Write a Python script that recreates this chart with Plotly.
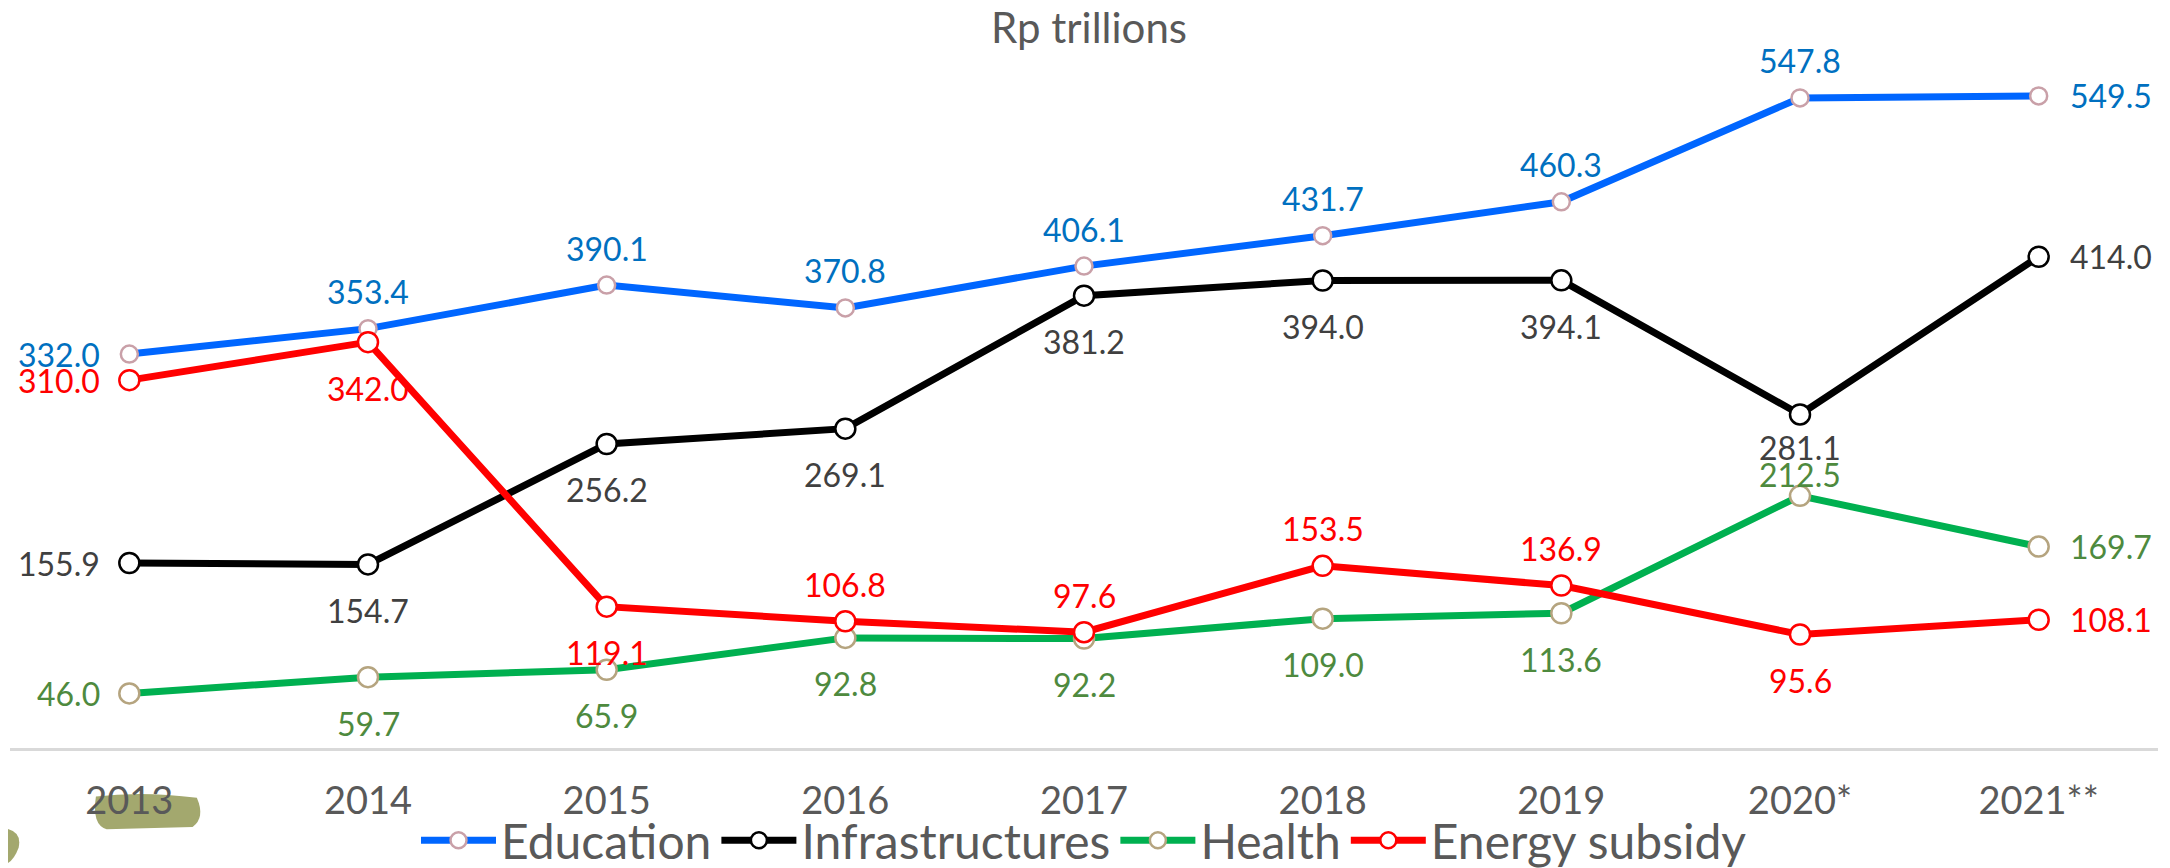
import plotly.graph_objects as go

years = ["2013", "2014", "2015", "2016", "2017", "2018", "2019", "2020*", "2021**"]
education = [332.0, 353.4, 390.1, 370.8, 406.1, 431.7, 460.3, 547.8, 549.5]
infrastructure = [155.9, 154.7, 256.2, 269.1, 381.2, 394.0, 394.1, 281.1, 414.0]
health = [46.0, 59.7, 65.9, 92.8, 92.2, 109.0, 113.6, 212.5, 169.7]
energy = [310.0, 342.0, 119.1, 106.8, 97.6, 153.5, 136.9, 95.6, 108.1]

# label placement codes: L=left, R=right, T=above, B=below
pos_edu = ["L", "T", "T", "T", "T", "T", "T", "T", "R"]
pos_inf = ["L", "B", "B", "B", "B", "B", "B", "B", "R"]
pos_hea = ["L", "B", "B", "B", "B", "B", "B", "T", "R"]
pos_ene = ["L", "B", "B", "T", "T", "T", "T", "B", "R"]

FONT = "Lato, 'Open Sans', sans-serif"
SHIFT = {"T": (0, 37), "B": (0, -46), "L": (-27, 0), "R": (29, 0)}
ANCH = {"T": "center", "B": "center", "L": "right", "R": "left"}
# individual nudges (series, index) -> yshift
NUDGE = {("Infrastructures", 7): -33, ("Health", 7): 21}

series = [
    ("Education", education, pos_edu, "#0066FF", "#C9A0A8", "#0070C0", 17),
    ("Infrastructures", infrastructure, pos_inf, "#000000", "#000000", "#404040", 20),
    ("Health", health, pos_hea, "#00B050", "#B5A47F", "#4E8A3E", 20),
    ("Energy subsidy", energy, pos_ene, "#FF0000", "#FF0000", "#FF0000", 20),
]

fig = go.Figure()
annotations = []
for name, vals, pos, lc, mc, tc, ms in series:
    fig.add_trace(go.Scatter(
        x=years, y=vals, name=name, mode="lines+markers",
        line=dict(color=lc, width=7),
        marker=dict(size=ms, color="white", line=dict(color=mc, width=2.5)),
        cliponaxis=False,
    ))
    for i, (v, p) in enumerate(zip(vals, pos)):
        dx, dy = SHIFT[p]
        dy = NUDGE.get((name, i), dy)
        annotations.append(dict(
            x=i, y=v, xref="x", yref="y", text=f"{v:.1f}", showarrow=False,
            xanchor=ANCH[p], yanchor="middle", xshift=dx, yshift=dy,
            font=dict(family=FONT, size=32, color=tc),
        ))

# hand-drawn highlight marks
fig.add_shape(type="path", xref="paper", yref="paper", layer="below",
              path="M 0.040 -0.068 Q 0.038 -0.108 0.045 -0.114 L 0.085 -0.111 Q 0.091 -0.098 0.087 -0.070 Q 0.062 -0.060 0.040 -0.068 Z",
              fillcolor="#A3A86E", line=dict(width=0))
fig.add_shape(type="path", xref="paper", yref="paper", layer="below",
              path="M -0.005 -0.112 Q 0.006 -0.114 0.004 -0.14 Q 0.001 -0.165 -0.005 -0.165 Z",
              fillcolor="#A3A86E", line=dict(width=0))

fig.update_layout(
    width=2162, height=860,
    margin=dict(l=2, r=12, t=28, b=120, autoexpand=False),
    paper_bgcolor="white", plot_bgcolor="white",
    title=dict(text="Rp trillions", x=0.5, xanchor="center", y=1 - 20 / 860, yanchor="middle",
               yref="container", font=dict(family=FONT, size=42, color="#595959")),
    annotations=annotations,
    showlegend=True,
    legend=dict(orientation="h", x=0.5, xanchor="center", y=-0.130, yanchor="middle",
                font=dict(family=FONT, size=48, color="#595959"), itemwidth=75,
                tracegroupgap=0, bgcolor="rgba(0,0,0,0)"),
    xaxis=dict(type="category", range=[-0.5, 8.5], showgrid=False, zeroline=False,
               showline=True, linecolor="#D9D9D9", linewidth=3, ticks="",
               ticklabelstandoff=17, automargin=False,
               tickfont=dict(family=FONT, size=38, color="#595959")),
    yaxis=dict(range=[0, 600], showgrid=False, zeroline=False, showticklabels=False,
               showline=False, automargin=False),
)

fig.write_html("out.html")
